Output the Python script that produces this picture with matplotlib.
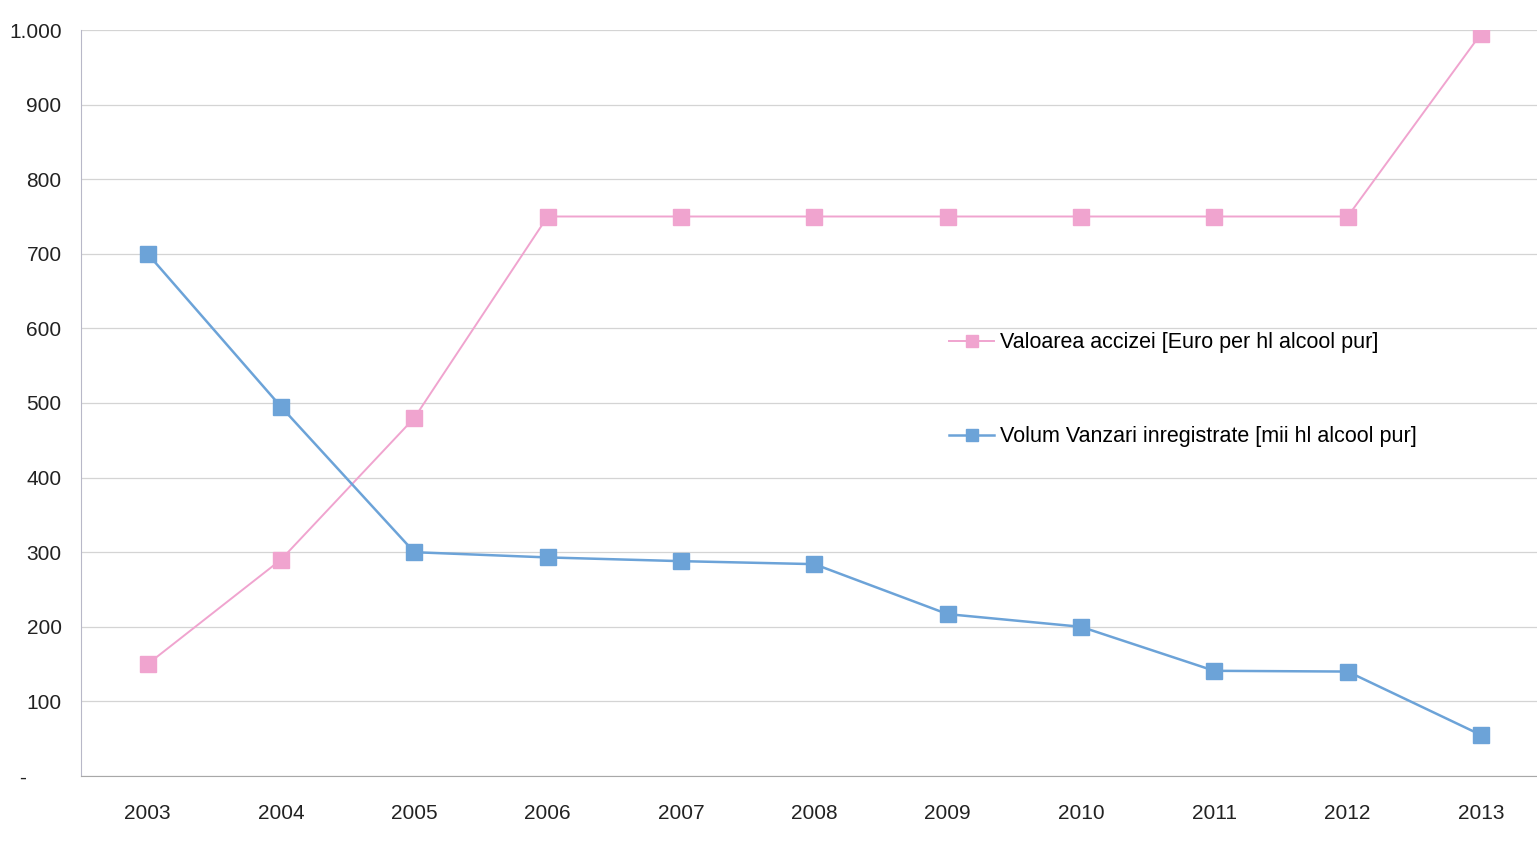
import matplotlib.pyplot as plt
from matplotlib.ticker import FuncFormatter

plt.rcParams['font.family'] = ['Liberation Sans', 'DejaVu Sans']

years = ['2003', '2004', '2005', '2006', '2007', '2008', '2009', '2010', '2011', '2012', '2013']
acciza = [150, 290, 480, 750, 750, 750, 750, 750, 750, 750, 995]
volum = [700, 495, 300, 293, 288, 284, 217, 200, 141, 140, 55]

label_acciza = 'Valoarea accizei [Euro per hl alcool pur]'
label_volum = 'Volum Vanzari inregistrate [mii hl alcool pur]'

pink = '#f0a4cf'
blue = '#6ca3d8'


def fmt_y(v, pos):
	if v == 0:
		return '-      '
	if v >= 1000:
		return '{:,.0f}'.format(v).replace(',', '.')
	return '{:.0f}'.format(v)


fig = plt.figure(figsize=(15.37, 8.42), dpi=100)
ax = fig.add_axes([81 / 1537, 1 - 776 / 842, 1 - 81 / 1537, (776 - 30) / 842])

x = list(range(len(years)))
ax.plot(x, acciza, color=pink, lw=1.4, marker='s', markersize=11,
	markerfacecolor=pink, markeredgecolor=pink, label=label_acciza, zorder=3)
ax.plot(x, volum, color=blue, lw=1.8, marker='s', markersize=11,
	markerfacecolor=blue, markeredgecolor=blue, label=label_volum, zorder=3)

ax.set_xlim(-0.5, 10.42)
ax.set_ylim(0, 1000)
ax.set_yticks(range(0, 1001, 100))
ax.yaxis.set_major_formatter(FuncFormatter(fmt_y))
ax.set_xticks(x)
ax.set_xticklabels(years)

ax.grid(axis='y', color='#d4d4d4', lw=0.9)
ax.set_axisbelow(True)
for s in ['top', 'right']:
	ax.spines[s].set_visible(False)
ax.spines['left'].set_color('#b8b8c8')
ax.spines['bottom'].set_color('#a8a8a8')
ax.tick_params(axis='both', length=0, labelsize=15, colors='#222222')
ax.tick_params(axis='y', pad=14)
ax.tick_params(axis='x', pad=20)

leg = ax.legend(loc='upper left', bbox_to_anchor=(0.583, 0.621), frameon=False,
	fontsize=15.5, handlelength=2.1, handletextpad=0.25, labelspacing=3.4,
	markerscale=0.8)

plt.savefig('out.png', dpi=100)
